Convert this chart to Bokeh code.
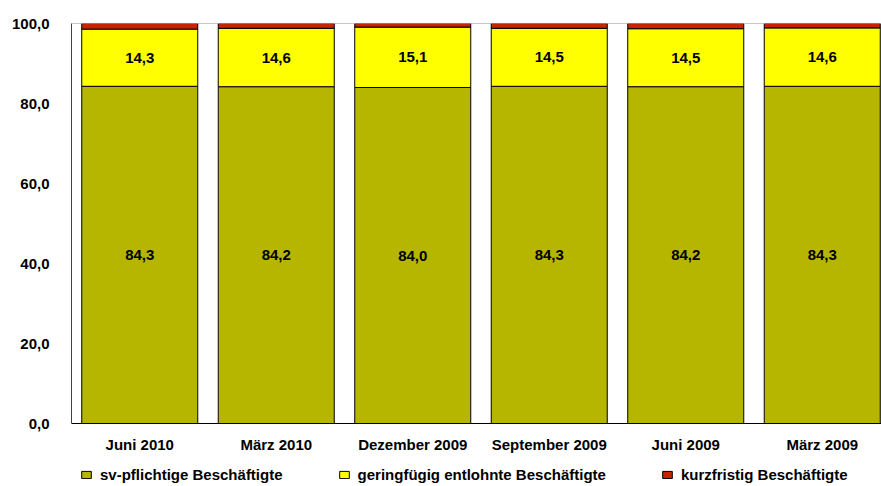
from bokeh.plotting import figure
from bokeh.models import ColumnDataSource, Range1d, FixedTicker, Legend, LegendItem, Span
from bokeh.core.properties import value
from bokeh.embed import file_html
from bokeh.resources import INLINE

categories = ["Juni 2010", "März 2010", "Dezember 2009", "September 2009", "Juni 2009", "März 2009"]
sv = [84.3, 84.2, 84.0, 84.3, 84.2, 84.3]
gering = [14.3, 14.6, 15.1, 14.5, 14.5, 14.6]
kurz = [1.4, 1.2, 0.9, 1.2, 1.3, 1.1]
y_ticks = [0, 20, 40, 60, 80, 100]
series_names = ["sv-pflichtige Beschäftigte", "geringfügig entlohnte Beschäftigte", "kurzfristig Beschäftigte"]
colors = ["#B6B600", "#FFFF00", "#C82200"]

FONT = "Liberation Sans"

def fmt(v):
    return f"{v:.1f}".replace(".", ",")

xs = [i + 0.5 for i in range(len(categories))]
src = ColumnDataSource(dict(
    x=xs, sv=sv, gering=gering, kurz=kurz,
    y_sv=[v / 2 for v in sv],
    y_g=[a + b / 2 for a, b in zip(sv, gering)],
    t_sv=[fmt(v) for v in sv],
    t_g=[fmt(v) for v in gering],
    base=[0] * len(categories),
    cat=categories,
))

W, H = 881, 486
LEFT, TOP = 71, 23
PX_PER_UNIT = 4.0          # 100 units span 400 px
BOTTOM_SPACE = 63          # px below the zero line for labels and legend
p = figure(width=W, height=H, output_backend="svg", toolbar_location=None,
           x_axis_location=None,
           x_range=Range1d(0, (W - LEFT) / 136.5),
           y_range=Range1d(-BOTTOM_SPACE / PX_PER_UNIT, 100),
           min_border_left=LEFT, min_border_right=0, min_border_top=TOP, min_border_bottom=0)
p.background_fill_color = "white"
p.border_fill_color = "white"
p.outline_line_color = None
p.grid.visible = False

rs = p.vbar_stack(["sv", "gering", "kurz"], x="x", width=0.85, color=colors,
                  line_color="black", line_width=1, source=src)

p.add_layout(Span(location=100, dimension="width", line_color="#909090", line_width=1))
p.add_layout(Span(location=0, dimension="width", line_color="black", line_width=1))

p.text(x="x", y="y_sv", text="t_sv", source=src, text_align="center", text_baseline="middle",
       text_font=value(FONT), text_font_style="bold", text_font_size="15px", text_color="black")
p.text(x="x", y="y_g", text="t_g", source=src, text_align="center", text_baseline="middle",
       text_font=value(FONT), text_font_style="bold", text_font_size="15px", text_color="black")

# category labels under the zero line
p.text(x="x", y="base", text="cat", source=src, y_offset=21, text_align="center",
       text_baseline="middle", text_font=value(FONT), text_font_style="bold",
       text_font_size="15px", text_color="black")

p.yaxis.bounds = (0, 100)
p.yaxis.ticker = FixedTicker(ticks=y_ticks)
p.yaxis.major_label_overrides = {t: fmt(t) for t in y_ticks}
p.yaxis.major_tick_line_color = None
p.yaxis.minor_tick_line_color = None
p.yaxis.axis_line_color = "#404040"
p.yaxis.major_label_standoff = 16
p.yaxis.major_label_text_font = FONT
p.yaxis.major_label_text_font_style = "bold"
p.yaxis.major_label_text_font_size = "15px"
p.yaxis.major_label_text_color = "black"

legend = Legend(items=[LegendItem(label=n, renderers=[r]) for n, r in zip(series_names, rs)],
                orientation="horizontal", location=(9, 3), spacing=55, padding=0, margin=0,
                glyph_width=12, glyph_height=9, label_standoff=8,
                label_text_font=FONT, label_text_font_style="bold", label_text_font_size="15px",
                label_text_color="black",
                border_line_color=None, background_fill_alpha=0)
p.add_layout(legend, "center")

open("out.html", "w").write(file_html(p, INLINE))
